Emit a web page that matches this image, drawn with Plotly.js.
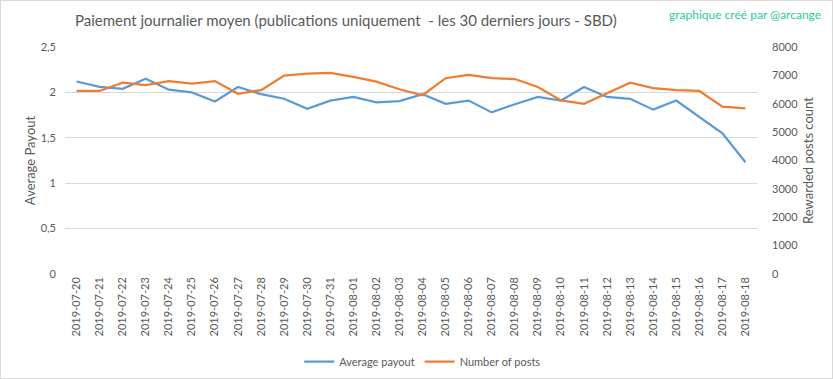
<!DOCTYPE html>
<html>
<head>
<meta charset="utf-8">
<script src="https://cdn.plot.ly/plotly-3.0.1.min.js"></script>
<style>
html,body{margin:0;padding:0;background:#fff;}
#chart{width:833px;height:379px;box-sizing:border-box;border:1px solid #d9d9d9;}
</style>
</head>
<body>
<div id="chart"></div>
<script>
const dates = ["2019-07-20","2019-07-21","2019-07-22","2019-07-23","2019-07-24","2019-07-25","2019-07-26","2019-07-27","2019-07-28","2019-07-29","2019-07-30","2019-07-31","2019-08-01","2019-08-02","2019-08-03","2019-08-04","2019-08-05","2019-08-06","2019-08-07","2019-08-08","2019-08-09","2019-08-10","2019-08-11","2019-08-12","2019-08-13","2019-08-14","2019-08-15","2019-08-16","2019-08-17","2019-08-18"];
const avgPayout = [2.12,2.06,2.04,2.15,2.03,2.00,1.90,2.06,1.98,1.93,1.82,1.91,1.95,1.89,1.905,1.98,1.875,1.91,1.78,1.87,1.95,1.91,2.06,1.95,1.93,1.81,1.91,1.73,1.55,1.23];
const numPosts = [6450,6450,6740,6660,6800,6710,6800,6350,6480,6990,7060,7090,6950,6780,6510,6300,6900,7020,6900,6870,6590,6120,6000,6370,6740,6550,6480,6450,5900,5840];
const leftTickVals = [0,0.5,1,1.5,2,2.5];
const leftTickText = ["0","0,5","1","1,5","2","2,5"];
const rightTickVals = [0,1000,2000,3000,4000,5000,6000,7000,8000];

const gray = "#595959";
const fontFam = "Lato, 'Open Sans', sans-serif";

const traces = [
  {x: dates, y: avgPayout, name: "Average payout", type: "scatter", mode: "lines",
   line: {color: "#5B9BD5", width: 2.25}, yaxis: "y"},
  {x: dates, y: numPosts, name: "Number of posts", type: "scatter", mode: "lines",
   line: {color: "#ED7D31", width: 2.25}, yaxis: "y2"}
];

const layout = {
  width: 831, height: 377,
  margin: {l: 64, r: 75, t: 46, b: 104, pad: 0, autoexpand: false},
  paper_bgcolor: "#fff", plot_bgcolor: "#fff",
  font: {family: fontFam, color: gray, size: 11},
  title: {text: "Paiement journalier moyen (publications uniquement  - les 30 derniers jours - SBD)",
          font: {size: 15, color: gray, family: fontFam},
          x: 0.415, xanchor: "center", xref: "container", y: 0.947, yanchor: "middle", yref: "container"},
  showlegend: true,
  legend: {orientation: "h", x: 0.517, xanchor: "center", y: -0.386, yanchor: "middle",
           font: {size: 11, color: gray}, bgcolor: "rgba(0,0,0,0)"},
  xaxis: {type: "category", tickangle: -90, showgrid: false, showline: false, zeroline: false,
          ticks: "", tickfont: {size: 11, color: gray}, range: [-0.5, 29.5], fixedrange: true},
  yaxis: {range: [0, 2.5], tickvals: leftTickVals, ticktext: leftTickText, showgrid: true,
          gridcolor: "#d9d9d9", gridwidth: 1, zeroline: false, showline: false, ticks: "",
          tickfont: {size: 11, color: gray}, ticklabelstandoff: 8,
          title: {text: "Average Payout", font: {size: 13, color: gray}, standoff: 2}},
  yaxis2: {range: [0, 8000], tickvals: rightTickVals, overlaying: "y", side: "right",
           showgrid: false, zeroline: false, showline: false, ticks: "",
           tickfont: {size: 11, color: gray}, ticklabelstandoff: 14,
           title: {text: "Rewarded posts count", font: {size: 13, color: gray}, standoff: 6}},
  annotations: [
    {text: "graphique créé par @arcange", xref: "paper", yref: "paper", x: 1.095, xanchor: "right",
     y: 1.141, yanchor: "middle", showarrow: false, font: {size: 12, color: "#2DC8A4", family: fontFam}}
  ]
};

Plotly.newPlot("chart", traces, layout, {displayModeBar: false, staticPlot: true});
</script>
</body>
</html>
